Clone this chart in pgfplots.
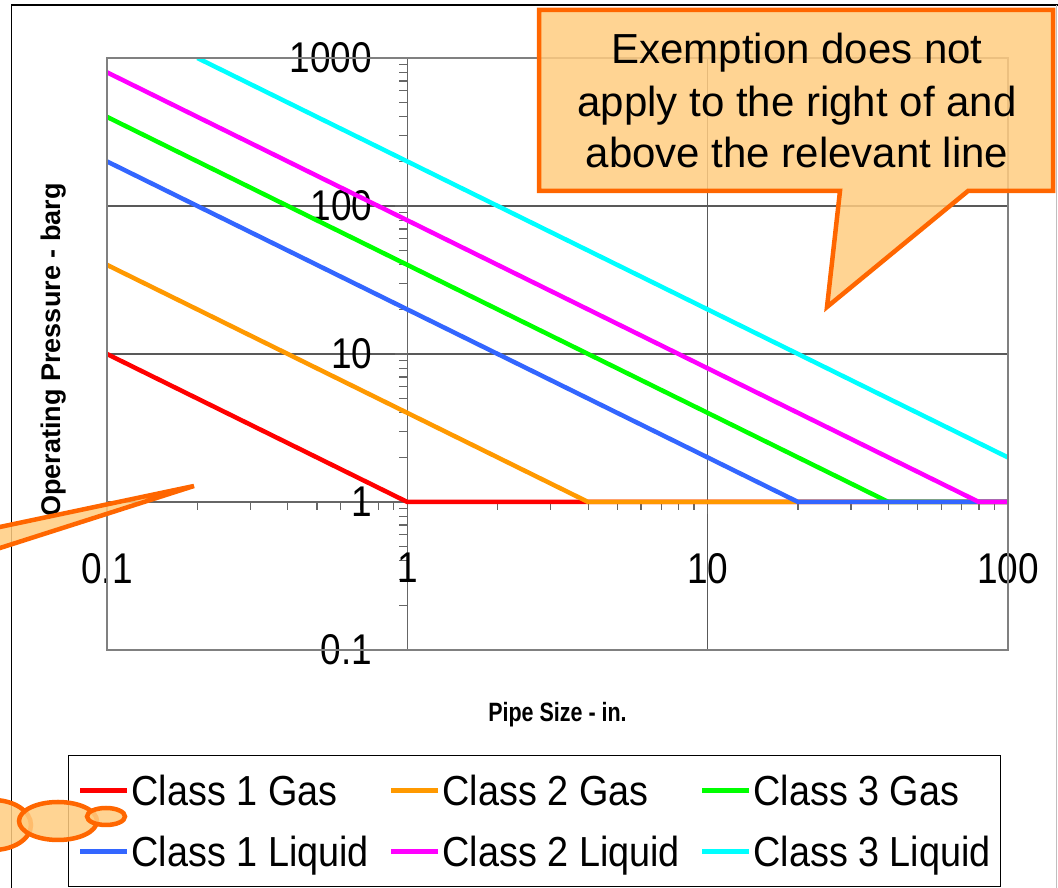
\documentclass[border=0pt]{standalone}
\usepackage{pgfplots}
\pgfplotsset{compat=1.18}
\usepackage{fontspec}
\setmainfont{Liberation Sans}
\newfontfamily\tickfont{Liberation Sans}[FakeStretch=0.86]
\newfontfamily\legfont{Liberation Sans}[FakeStretch=0.9]
\newfontfamily\titlefont{Liberation Sans}[FakeStretch=0.81]
\definecolor{cRed}{RGB}{255,0,0}
\definecolor{cOrange}{RGB}{255,153,0}
\definecolor{cGreen}{RGB}{0,255,0}
\definecolor{cBlue}{RGB}{51,102,255}
\definecolor{cMagenta}{RGB}{255,0,255}
\definecolor{cCyan}{RGB}{0,255,255}
\definecolor{calloutFill}{RGB}{255,204,128}
\definecolor{calloutLine}{RGB}{255,102,0}
\begin{document}
\begin{tikzpicture}[x=1pt,y=1pt]
\useasboundingbox (0,0) rectangle (1058,888);
\clip (0,0) rectangle (1058,888);
\begin{axis}[
  at={(107pt,238pt)}, anchor=south west,
  scale only axis, width=901pt, height=592pt,
  xmode=log, ymode=log,
  xmin=0.1, xmax=100, ymin=0.1, ymax=1000,
  axis lines=middle,
  axis line style={-, draw=black!60, line width=1.5pt},
  xtick={0.1,1,10,100}, xticklabels={0.1,1,10,100},
  ytick={0.1,1,10,100,1000}, yticklabels={0.1,1,10,100,1000},
  minor xtick={0.2,0.3,0.4,0.5,0.6,0.7,0.8,0.9,2,3,4,5,6,7,8,9,20,30,40,50,60,70,80,90},
  minor ytick={0.2,0.3,0.4,0.5,0.6,0.7,0.8,0.9,2,3,4,5,6,7,8,9,20,30,40,50,60,70,80,90,200,300,400,500,600,700,800,900},
  tick align=outside,
  major tick length=12pt, minor tick length=8pt,
  every tick/.style={black!60, line width=1.2pt},
  hide obscured x ticks=false, hide obscured y ticks=false,
  grid=major,
  major grid style={black!65, line width=1.1pt},
  xticklabel style={font=\tickfont\fontsize{43}{43}\selectfont, anchor=north, inner sep=0pt, yshift=-39pt},
  yticklabel style={font=\tickfont\fontsize{43}{43}\selectfont, anchor=east, inner sep=0pt, xshift=-23pt},
  clip mode=individual,
  legend columns=3,
  legend cell align=left,
  legend image code/.code={\draw[#1] (0pt,0pt) -- (47pt,0pt);},
  legend style={
    at={(axis description cs:-0.0437,-0.1774)}, anchor=north west,
    draw=black, line width=1pt, fill=white,
    inner xsep=10pt, inner ysep=10pt,
    font=\legfont\fontsize{42}{42}\selectfont,
    nodes={inner sep=0pt, text height=40pt, text depth=10pt},
    row sep=11pt,
    /tikz/every odd column/.append style={column sep=2pt},
    /tikz/every even column/.append style={column sep=20pt},
  },
]
\addplot[cRed, line width=4.5pt] coordinates {(0.1,10) (1,1) (100,1)};
\addlegendentry{Class 1 Gas}
\addplot[cOrange, line width=4.5pt] coordinates {(0.1,40) (4,1) (100,1)};
\addlegendentry{Class 2 Gas}
\addplot[cGreen, line width=4.5pt] coordinates {(0.1,400) (40,1) (100,1)};
\addlegendentry{Class 3 Gas}
\addplot[cBlue, line width=4.5pt] coordinates {(0.1,200) (20,1) (100,1)};
\addlegendentry{Class 1 Liquid}
\addplot[cMagenta, line width=4.5pt] coordinates {(0.1,800) (80,1) (100,1)};
\addlegendentry{Class 2 Liquid}
\addplot[cCyan, line width=4.5pt] coordinates {(0.2,1000) (100,2)};
\addlegendentry{Class 3 Liquid}
\draw[black!50, line width=2pt] (rel axis cs:0,0) rectangle (rel axis cs:1,1);
\end{axis}
% axis titles
\node[rotate=90, anchor=center, font=\bfseries\fontsize{27}{27}\selectfont] at (54,538) {Operating Pressure - barg};
\node[anchor=base, font=\titlefont\bfseries\fontsize{26.5}{26.5}\selectfont] at (557.5,166) {Pipe Size - in.};
% outer chart border
\draw[black, line width=1.5pt] (11.5,0) -- (11.5,883) -- (1058,883);
\draw[black!25, line width=1pt] (1056.5,0) -- (1056.5,883);
% callout
\draw[calloutLine, line width=4.5pt, fill=calloutFill, fill opacity=0.85, line join=miter]
  (539,878) -- (1053,878) -- (1053,697) -- (968,697) -- (827,581) -- (840,697) -- (539,697) -- cycle;
\node[anchor=base, font=\fontsize{42}{42}\selectfont] at (797,824.5) {Exemption does not};
\node[anchor=base, font=\fontsize{42}{42}\selectfont] at (797,771.3) {apply to the right of and};
\node[anchor=base, font=\fontsize{42}{42}\selectfont] at (797,720) {above the relevant line};
% left wedge of another callout
\draw[calloutLine, line width=4.5pt, fill=calloutFill, fill opacity=0.85, line join=miter]
  (-30,354.7) -- (194,402) -- (-30,330.4);
% thought bubbles
\draw[calloutLine, line width=4.5pt, fill=calloutFill, fill opacity=0.85] (-7,63) ellipse [x radius=38, y radius=25];
\draw[calloutLine, line width=4.5pt, fill=calloutFill, fill opacity=0.85] (58,67) ellipse [x radius=39, y radius=19];
\draw[calloutLine, line width=4.5pt, fill=calloutFill, fill opacity=0.85] (106,71.5) ellipse [x radius=19, y radius=8.5];
\end{tikzpicture}
\end{document}
